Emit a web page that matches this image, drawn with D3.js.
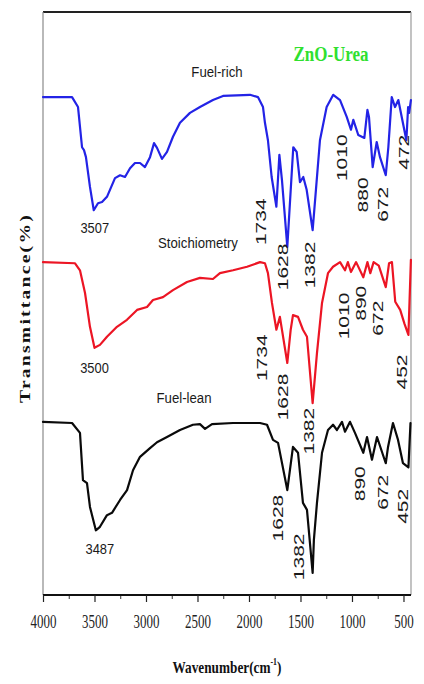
<!DOCTYPE html>
<html>
<head>
<meta charset="utf-8">
<script src="https://cdn.jsdelivr.net/npm/d3@7"></script>
<style>
  body { margin: 0; background: #fff; }
  svg { display: block; }
</style>
</head>
<body>
<svg id="chart" width="424" height="684"></svg>
<script>
// Wavenumber axis ticks (cm^-1)
const majorTicks = [4000, 3500, 3000, 2500, 2000, 1500, 1000, 500];
const minorTicks = [3750, 3250, 2750, 2250, 1750, 1250, 750];

const seriesNames = ["Fuel-rich", "Stoichiometry", "Fuel-lean"];
const titleText = "ZnO-Urea";

// FTIR spectra: [wavenumber (cm^-1), transmittance (stacked, a.u.)]
const fuelRich = [
  [4000, 85.4], [3718, 85.4], [3660, 83.7], [3621, 76.8], [3602, 76.3], [3583, 75.1],
  [3544, 70.0], [3507, 66.0], [3466, 67.2], [3427, 67.4], [3379, 68.3], [3301, 71.5],
  [3252, 72.0], [3204, 71.7], [3155, 73.2], [3107, 74.1], [3058, 74.1], [3010, 73.4],
  [2961, 75.1], [2922, 77.5], [2893, 76.7], [2845, 74.8], [2796, 76.0], [2738, 78.6],
  [2670, 81.0], [2573, 82.7], [2476, 83.7], [2350, 84.9], [2252, 85.6], [1990, 85.8],
  [1913, 85.4], [1864, 83.7], [1845, 81.0], [1816, 78.0], [1780, 71.7], [1734, 66.6],
  [1705, 75.5], [1680, 71.2], [1628, 59.7], [1570, 76.8], [1537, 76.0], [1505, 70.8],
  [1473, 71.7], [1440, 69.5], [1382, 62.6], [1350, 69.5], [1311, 78.0], [1246, 83.7],
  [1182, 85.8], [1116, 84.9], [1051, 82.0], [1010, 79.8], [987, 81.5], [939, 78.9],
  [880, 78.4], [850, 83.2], [835, 82.0], [799, 73.4], [760, 77.7], [728, 75.1],
  [672, 72.0], [647, 76.8], [614, 85.4], [582, 83.7], [550, 84.9], [472, 78.0],
  [455, 83.7], [445, 82.7], [428, 84.9]
];

const stoichiometry = [
  [4000, 57.1], [3689, 56.9], [3641, 55.7], [3592, 51.8], [3544, 46.0], [3500, 42.4],
  [3447, 42.9], [3379, 44.3], [3282, 46.0], [3185, 47.2], [3087, 48.9], [2990, 49.4],
  [2932, 50.6], [2835, 51.1], [2738, 52.3], [2602, 53.7], [2476, 54.4], [2350, 54.2],
  [2282, 55.2], [2155, 55.7], [2019, 56.3], [1893, 57.1], [1845, 56.9], [1816, 55.2],
  [1777, 50.1], [1734, 45.5], [1700, 47.7], [1628, 39.8], [1595, 45.5], [1573, 48.0],
  [1524, 47.7], [1476, 45.5], [1437, 44.3], [1382, 32.9], [1340, 41.5], [1291, 50.1],
  [1233, 55.2], [1184, 56.3], [1116, 57.1], [1068, 55.7], [1040, 57.1], [1010, 55.4],
  [960, 57.1], [890, 54.5], [850, 57.1], [822, 55.2], [790, 57.1], [740, 56.5],
  [672, 52.8], [640, 56.9], [612, 57.1], [580, 50.3], [532, 48.9], [490, 46.5],
  [452, 44.6], [428, 57.5]
];

const fuelLean = [
  [4000, 29.7], [3718, 29.5], [3641, 27.8], [3612, 19.7], [3573, 19.2], [3544, 15.1],
  [3487, 11.1], [3447, 11.7], [3379, 13.7], [3330, 14.1], [3252, 16.3], [3184, 18.0],
  [3126, 21.4], [3058, 23.7], [2961, 25.2], [2893, 26.2], [2796, 27.1], [2670, 28.3],
  [2544, 29.2], [2476, 29.3], [2427, 28.5], [2359, 29.3], [2155, 29.5], [1893, 29.5],
  [1825, 29.2], [1767, 26.6], [1718, 26.1], [1628, 18.0], [1573, 25.4], [1524, 24.4],
  [1476, 15.8], [1437, 14.6], [1408, 8.9], [1382, 3.8], [1370, 9.4], [1340, 15.8],
  [1291, 24.4], [1233, 28.3], [1184, 29.2], [1146, 28.3], [1097, 29.7], [1068, 28.0],
  [1019, 29.7], [971, 27.8], [890, 24.4], [854, 27.1], [806, 23.2], [757, 27.1],
  [672, 22.6], [650, 25.4], [602, 29.5], [553, 26.6], [505, 22.6], [452, 21.9],
  [432, 29.5]
];

// Assigned band positions (cm^-1)
const fuelRichPeaks = [3507, 1734, 1628, 1382, 1010, 880, 672, 472];
const stoichiometryPeaks = [3500, 1734, 1628, 1382, 1010, 890, 672, 452];
const fuelLeanPeaks = [3487, 1628, 1382, 890, 672, 452];

const seriesColors = ["#2323e6", "#ec1524", "#0a0a0a"];

// ---- layout ----
const plot = { left: 43, right: 411, top: 12, bottom: 595 };

const svg = d3.select("#chart");

const x = d3.scaleLinear().domain([4000, 427]).range([plot.left, plot.right]);
const y = d3.scaleLinear().domain([0, 100]).range([plot.bottom, plot.top]);

// frame
svg.append("line").attr("x1", plot.left).attr("x2", plot.right)
  .attr("y1", plot.top).attr("y2", plot.top)
  .attr("stroke", "#222").attr("stroke-width", 1.8);
svg.append("line").attr("x1", plot.left).attr("x2", plot.left)
  .attr("y1", plot.top).attr("y2", plot.bottom)
  .attr("stroke", "#8a8a8a").attr("stroke-width", 1.2);
svg.append("line").attr("x1", plot.right).attr("x2", plot.right)
  .attr("y1", plot.top).attr("y2", plot.bottom)
  .attr("stroke", "#9a9a9a").attr("stroke-width", 1.2);

// bottom axis: minor ticks first, then major with labels
const minorAxis = d3.axisBottom(x).tickValues(minorTicks).tickSize(4).tickSizeOuter(0).tickFormat("");
const gMinor = svg.append("g").attr("transform", `translate(0,${plot.bottom})`).call(minorAxis);
gMinor.select(".domain").remove();
gMinor.selectAll("line").attr("stroke", "#333").attr("stroke-width", 1);

const majorAxis = d3.axisBottom(x).tickValues(majorTicks).tickSize(7).tickSizeOuter(0)
  .tickFormat(d3.format("d"));
const gAxis = svg.append("g").attr("transform", `translate(0,${plot.bottom})`).call(majorAxis);
gAxis.select(".domain").attr("stroke", "#111").attr("stroke-width", 2)
  .attr("d", `M${plot.left},0H${plot.right}`);
gAxis.selectAll("line").attr("stroke", "#222").attr("stroke-width", 1.2);
gAxis.selectAll("text")
  .attr("y", 20).attr("dy", "0.71em")
  .attr("font-family", "'Liberation Serif', 'DejaVu Serif', serif")
  .attr("font-size", 18).attr("fill", "#222")
  .attr("transform", "scale(0.72,1)");

// spectra
const line = d3.line().x(d => x(d[0])).y(d => y(d[1]));
const allSeries = [fuelRich, stoichiometry, fuelLean];
const allPeaks = [fuelRichPeaks, stoichiometryPeaks, fuelLeanPeaks];

allSeries.forEach((data, i) => {
  svg.append("path")
    .datum(data)
    .attr("d", line)
    .attr("fill", "none")
    .attr("stroke", seriesColors[i])
    .attr("stroke-width", 2.2)
    .attr("stroke-linejoin", "round")
    .attr("stroke-linecap", "round");
});

// band labels: placement relative to each band minimum (px)
const labelOffsets = [
  [[1, 18], [-15, 15], [-4, 20], [-3, 35], [-9, 28], [-1, 57], [-3, 29], [-2, 12]],
  [[0, 20], [-14, 28], [-4, 34], [-4, 28], [-7, 44], [-2, 26], [-8, 31], [-6, 37]],
  [[4, 18], [-9, 28], [-14, -16], [-3, 31], [-3, 29], [-5, 39]]
];

const sansFont = "'Liberation Sans', Arial, 'DejaVu Sans', sans-serif";
const serifFont = "'Liberation Serif', 'Times New Roman', 'DejaVu Serif', serif";

allPeaks.forEach((peaks, i) => {
  const data = allSeries[i];
  peaks.forEach((wn, j) => {
    const pt = data.find(d => d[0] === wn);
    const [dx, dy] = labelOffsets[i][j];
    const cx = x(pt[0]) + dx;
    const cy = y(pt[1]) + dy;
    const horizontal = j === 0;
    svg.append("text")
      .attr("transform", horizontal
        ? `translate(${cx},${cy}) scale(0.86,1)`
        : `translate(${cx},${cy}) rotate(-90) scale(1.5,1)`)
      .attr("text-anchor", "middle")
      .attr("dy", "0.35em")
      .attr("font-family", sansFont)
      .attr("font-size", horizontal ? 15 : 14)
      .attr("fill", "#1a1a1a")
      .text(wn);
  });
});

// series names
const nameAt = [[2311, 89.7], [2495, 60.5], [2631, 33.8]];
seriesNames.forEach((name, i) => {
  svg.append("text")
    .attr("transform", `translate(${x(nameAt[i][0])},${y(nameAt[i][1])}) scale(0.88,1)`)
    .attr("text-anchor", "middle")
    .attr("dy", "0.35em")
    .attr("font-family", sansFont)
    .attr("font-size", 15)
    .attr("fill", "#1a1a1a")
    .text(name);
});

// title
svg.append("text")
  .attr("transform", "translate(331,61) scale(0.85,1)")
  .attr("text-anchor", "middle")
  .attr("font-family", serifFont)
  .attr("font-weight", "bold")
  .attr("font-size", 20)
  .attr("fill", "#2fe02f")
  .text(titleText);

// axis titles
const xTitle = svg.append("text")
  .attr("transform", "translate(227,673) scale(0.78,1)")
  .attr("text-anchor", "middle")
  .attr("font-family", serifFont)
  .attr("font-weight", "bold")
  .attr("font-size", 17)
  .attr("fill", "#111");
xTitle.append("tspan").text("Wavenumber(cm");
xTitle.append("tspan").attr("font-size", 10).attr("dy", -8).text("-1");
xTitle.append("tspan").attr("dy", 8).text(")");

svg.append("text")
  .attr("transform", "translate(25,308) rotate(-90) scale(1.4,1)")
  .attr("text-anchor", "middle")
  .attr("dy", "0.35em")
  .attr("font-family", serifFont)
  .attr("font-weight", "bold")
  .attr("font-size", 14)
  .attr("letter-spacing", 1.6)
  .attr("fill", "#111")
  .text("Transmittance(%)");
</script>
</body>
</html>
